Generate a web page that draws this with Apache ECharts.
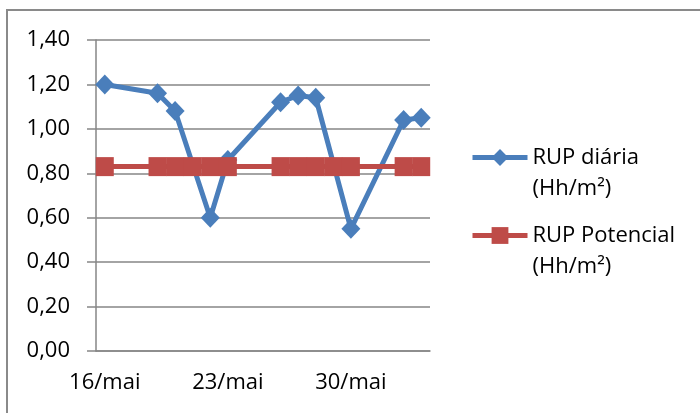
<!DOCTYPE html>
<html>
<head>
<meta charset="utf-8">
<script src="https://cdn.jsdelivr.net/npm/echarts@6/dist/echarts.min.js"></script>
<style>
  html, body { margin: 0; padding: 0; background: #fff; }
  #chart { width: 700px; height: 413px; }
</style>
</head>
<body>
<div id="chart"></div>
<script>
// Daily dates on the horizontal axis (one slot per day)
var categories = ['16/mai', '17/mai', '18/mai', '19/mai', '20/mai', '21/mai', '22/mai',
                  '23/mai', '24/mai', '25/mai', '26/mai', '27/mai', '28/mai', '29/mai',
                  '30/mai', '31/mai', '01/jun', '02/jun', '03/jun'];
// RUP diária (Hh/m²); null = no measurement that day
var rupDiaria = [1.20, null, null, 1.16, 1.08, null, 0.60,
                 0.86, null, null, 1.12, 1.15, 1.14, null,
                 0.55, null, null, 1.04, 1.05];
// RUP potencial (Hh/m²)
var rupPotencial = [0.83, null, null, 0.83, 0.83, 0.83, 0.83,
                    0.83, null, null, 0.83, 0.83, 0.83, 0.83,
                    0.83, null, null, 0.83, 0.83];
var seriesNames = ['RUP diária', 'RUP Potencial'];
var unitLine = '(Hh/m²)';

var FONT = '"Open Sans", sans-serif';
var GRID_COLOR = '#868686';

var chart = echarts.init(document.getElementById('chart'), null, { renderer: 'canvas' });
chart.setOption({
  backgroundColor: '#ffffff',
  animation: false,
  textStyle: { fontFamily: FONT },
  graphic: [{
    type: 'rect',
    shape: { x: 7, y: 10, width: 720, height: 430 },
    style: { fill: 'none', stroke: '#8a8a8a', lineWidth: 2 },
    silent: true,
    z: -1
  }],
  grid: { left: 96, right: 270, top: 40, bottom: 62 },
  legend: {
    orient: 'vertical',
    left: 470,
    top: 111,
    padding: 0,
    itemWidth: 55,
    itemHeight: 21,
    itemGap: -15,
    lineStyle: { width: 5 },
    // blank first line keeps the marker level with the series name
    formatter: function (name) { return ' \n' + name + '\n' + unitLine; },
    textStyle: { fontFamily: FONT, fontSize: 22, color: '#000', lineHeight: 31 },
    data: seriesNames
  },
  xAxis: {
    type: 'category',
    data: categories,
    boundaryGap: true,
    axisLine: { lineStyle: { color: GRID_COLOR, width: 1.5 } },
    axisTick: { interval: 6, length: 8, lineStyle: { color: GRID_COLOR, width: 1.5 } },
    axisLabel: { interval: 6, fontSize: 22, color: '#000', margin: 21, fontFamily: FONT }
  },
  yAxis: {
    type: 'value',
    min: 0, max: 1.4, interval: 0.2,
    axisLine: { show: true, lineStyle: { color: GRID_COLOR, width: 1.5 } },
    axisTick: { show: true, length: 9, lineStyle: { color: GRID_COLOR, width: 1.5 } },
    splitLine: { lineStyle: { color: GRID_COLOR, width: 1.5 } },
    axisLabel: {
      fontSize: 22, color: '#000', margin: 26, fontFamily: FONT,
      formatter: function (v) { return v.toFixed(2).replace('.', ','); }
    }
  },
  series: [{
    name: seriesNames[0],
    type: 'line',
    data: rupDiaria,
    connectNulls: true,
    symbol: 'diamond',
    symbolSize: [19, 20],
    showAllSymbol: true,
    lineStyle: { color: '#4a7ebb', width: 5 },
    itemStyle: { color: '#4a7ebb' }
  }, {
    name: seriesNames[1],
    type: 'line',
    data: rupPotencial,
    connectNulls: true,
    symbol: 'rect',
    symbolSize: [18, 19],
    showAllSymbol: true,
    lineStyle: { color: '#be4b48', width: 5 },
    itemStyle: { color: '#be4b48' }
  }]
});
</script>
</body>
</html>
